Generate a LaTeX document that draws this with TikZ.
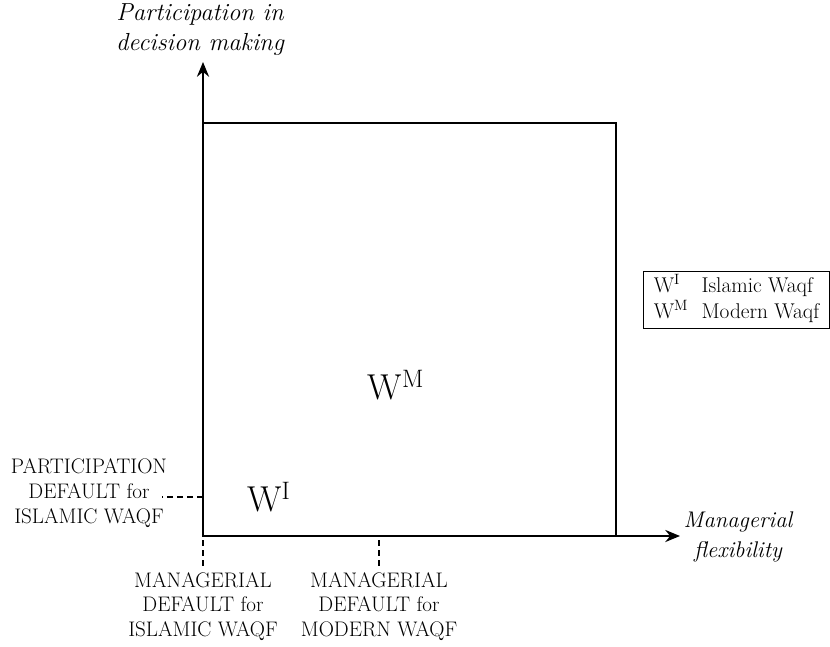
\documentclass[tikz,border=0pt]{standalone}
\usepackage{fontspec}
\usetikzlibrary{arrows.meta,positioning}
\begin{document}
\begin{tikzpicture}[x=0.75pt,y=0.75pt,
    lbl/.style={font=\fontsize{15.8}{18.5}\selectfont,align=center,inner sep=0pt},
    axlbl/.style={font=\fontsize{17}{22.5}\selectfont\itshape,align=center,inner sep=0pt},
    axis/.style={line width=2.1pt,-{Stealth[length=11pt,width=9pt]}},
    guide/.style={line width=1pt,dash pattern=on 4.5pt off 3pt},
    wlbl/.style={inner sep=0pt,font=\fontsize{27}{27}\selectfont}]
  \useasboundingbox (-203,-110) rectangle (627,536);
  % axes
  \coordinate (o) at (0,0);
  \coordinate (ytip) at (0,474);
  \coordinate (xtip) at (477,0);
  \draw[line width=2.1pt] (o) rectangle (413,413);
  \draw[axis] (o) -- (ytip);
  \draw[axis] (o) -- (xtip);
  \node[axlbl,font=\fontsize{18.5}{22.5}\selectfont\itshape] (ylab) at (-3,506) {Participation in\\decision making};
  \node[axlbl] (xlab) at (535,-1) {Managerial\\flexibility};
  % the two waqf
  \node[wlbl] (wm) at (193,151) {W\textsuperscript{M}};
  \node[wlbl] (wi) at (66,39) {W\textsuperscript{I}};
  % defaults
  \coordinate (pd) at (0,39);
  \coordinate (pdend) at (-41,39);
  \draw[guide] (pd) -- (pdend);
  \node[lbl] (plab) at (-114,43) {PARTICIPATION\\DEFAULT for\\ISLAMIC WAQF};
  \coordinate (mi) at (0,-4);
  \coordinate (miend) at (0,-32);
  \coordinate (mm) at (176,-4);
  \coordinate (mmend) at (176,-32);
  \draw[guide] (mi) -- (miend);
  \draw[guide] (mm) -- (mmend);
  \node[lbl,below=4 of miend] (milab) {MANAGERIAL\\DEFAULT for\\ISLAMIC WAQF};
  \node[lbl,below=4 of mmend] (mmlab) {MANAGERIAL\\DEFAULT for\\MODERN WAQF};
  % legend
  \node[draw,line width=0.7pt,inner sep=0pt,font=\fontsize{16}{18}\selectfont,
        minimum width=139pt,minimum height=43pt] (legend) at (533.5,236)
    {\begin{tabular}{@{}l@{\hspace{10pt}}l@{}}
      W\textsuperscript{I} & Islamic Waqf\\
      W\textsuperscript{M} & Modern Waqf
    \end{tabular}};
\end{tikzpicture}
\end{document}
